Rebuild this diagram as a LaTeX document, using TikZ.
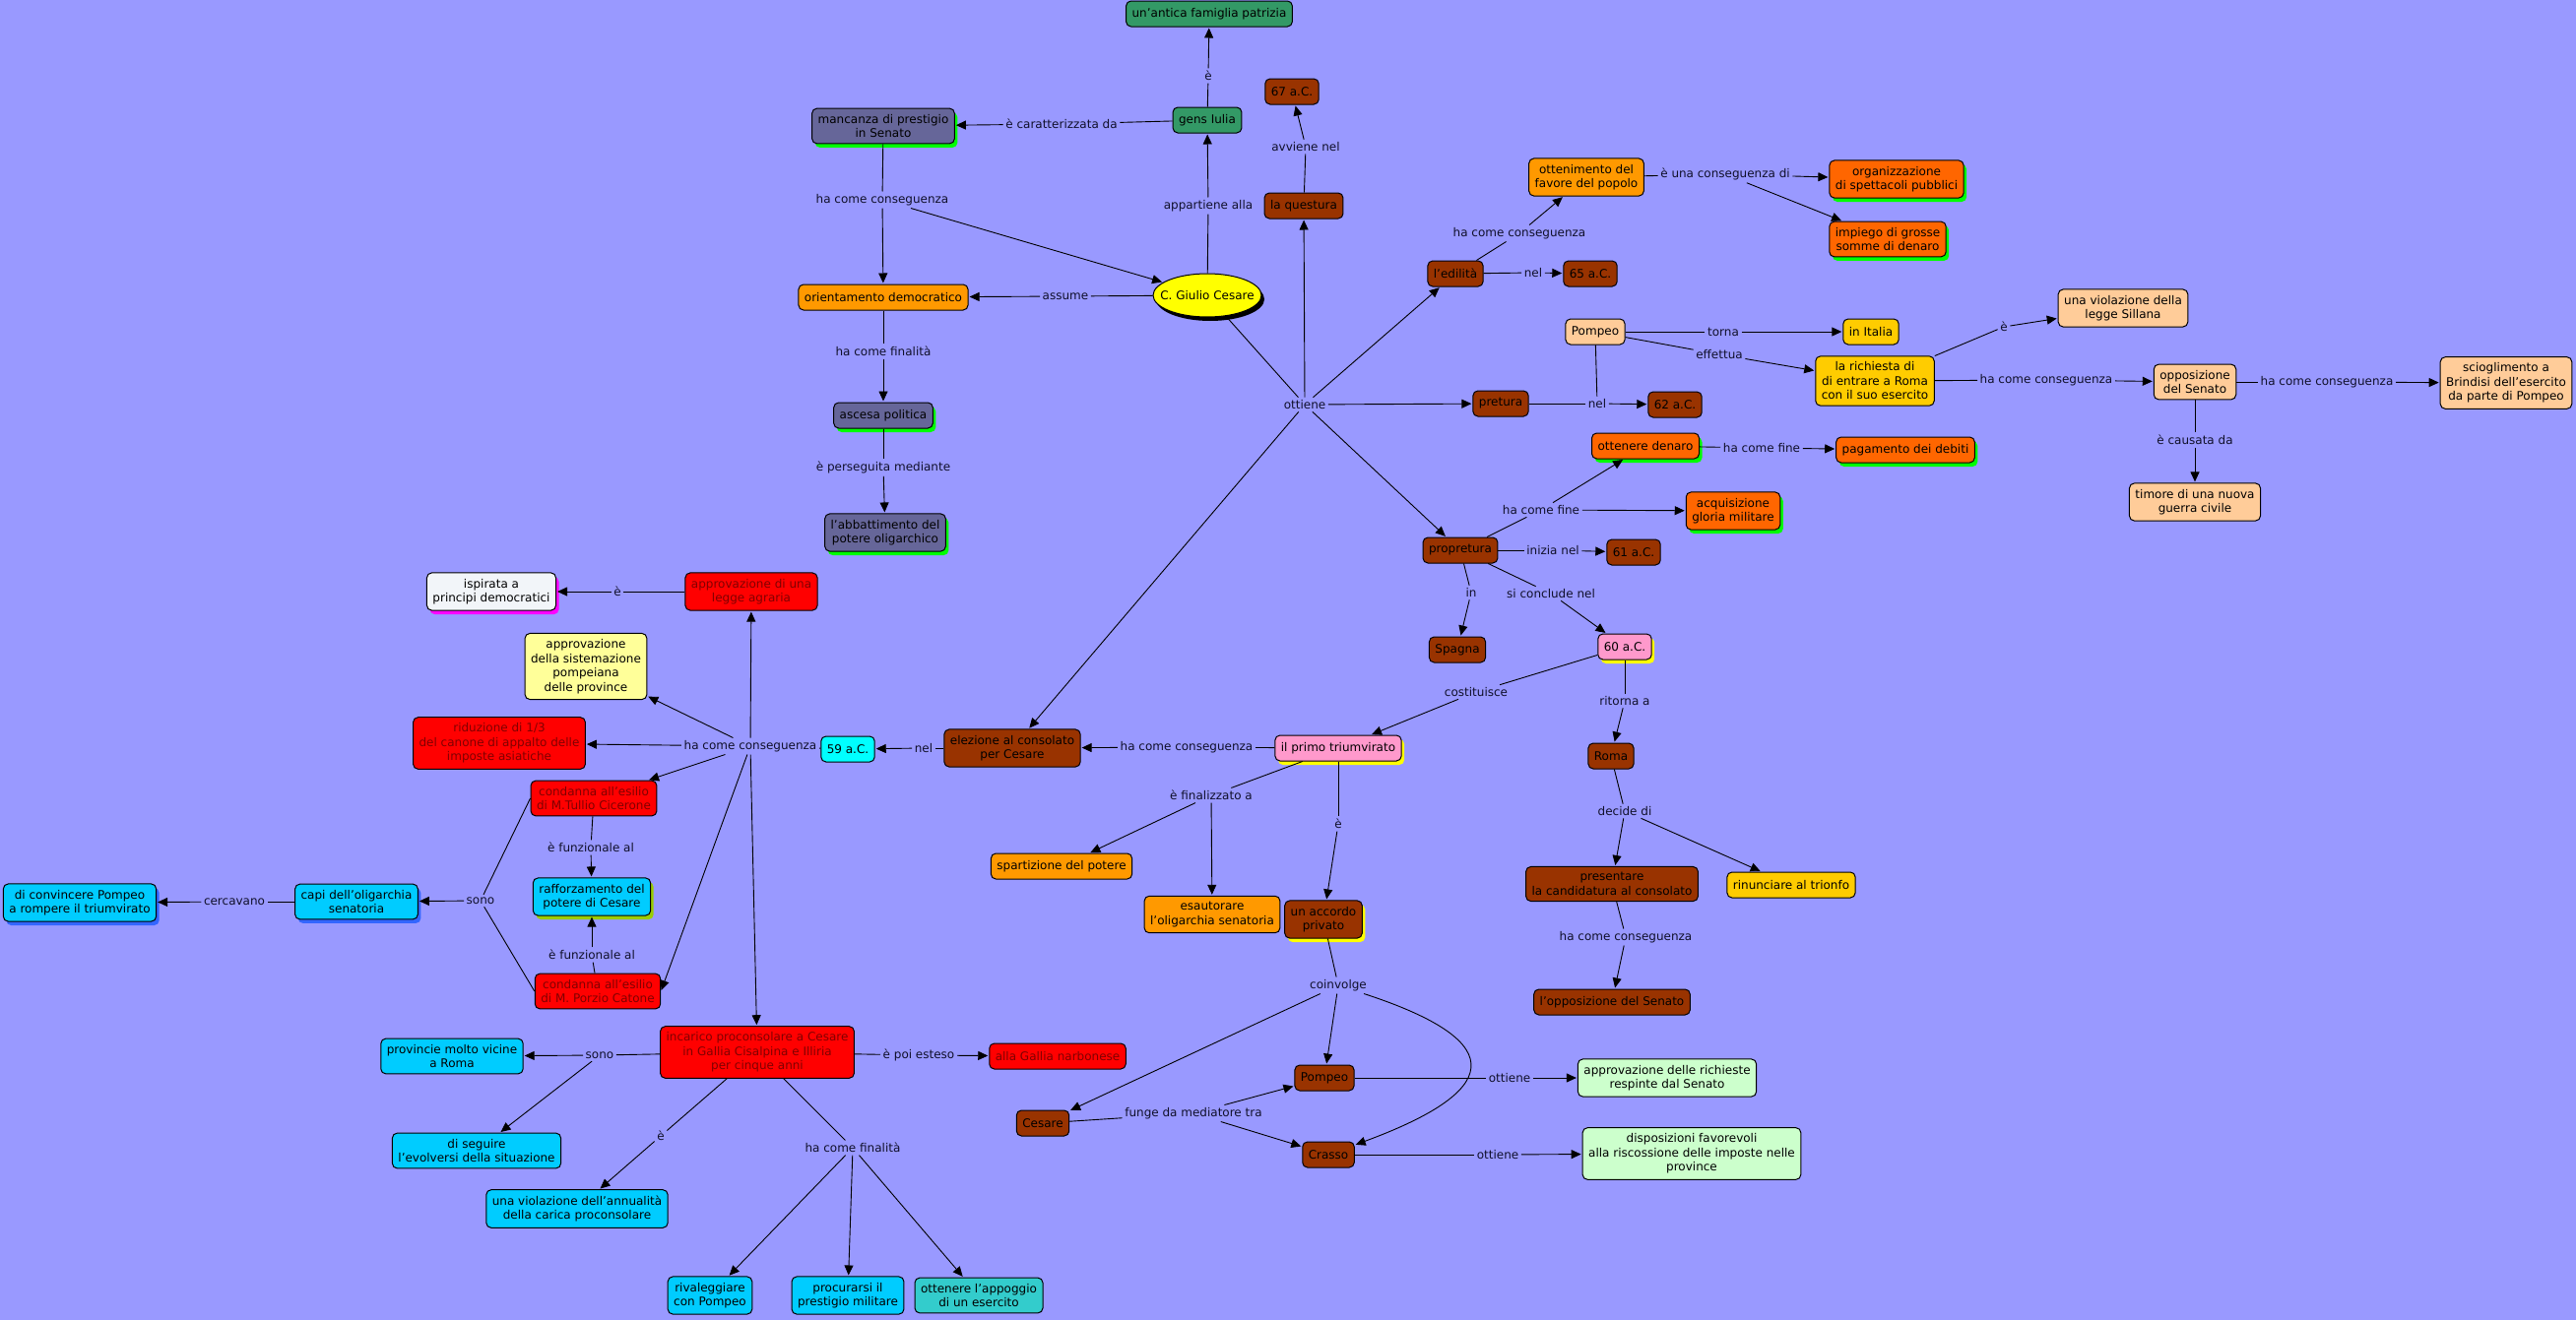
\documentclass[tikz,border=0pt]{standalone}
\usepackage{fontspec}
\setmainfont{DejaVu Sans}
\usetikzlibrary{arrows.meta, positioning, shapes.geometric, shadows}

\definecolor{mapbg}{HTML}{9999FF}
\definecolor{cmgreen}{HTML}{339966}
\definecolor{cmslate}{HTML}{666699}
\definecolor{cmorange}{HTML}{FF9900}
\definecolor{cmorred}{HTML}{FF6600}
\definecolor{cmbrown}{HTML}{993300}
\definecolor{cmpeach}{HTML}{FFCC99}
\definecolor{cmgold}{HTML}{FFCC00}
\definecolor{cmred}{HTML}{FF0000}
\definecolor{cmlyell}{HTML}{FFFF99}
\definecolor{cmcyan}{HTML}{00FFFF}
\definecolor{cmsky}{HTML}{00CCFF}
\definecolor{cmteal}{HTML}{33CCCC}
\definecolor{cmpink}{HTML}{FF99CC}
\definecolor{cmmint}{HTML}{CCFFCC}
\definecolor{cmwhite}{HTML}{F2F5F9}
\definecolor{cmyellow}{HTML}{FFFF00}
\definecolor{shgreen}{HTML}{00FF00}
\definecolor{shmagenta}{HTML}{FF00FF}
\definecolor{shlime}{HTML}{99CC00}
\definecolor{shblue}{HTML}{3366FF}
\definecolor{redtext}{HTML}{800000}
\definecolor{lbltext}{HTML}{10102A}

\newcommand{\mapfont}{\fontsize{12}{14.5}\selectfont}

\begin{document}
\begin{tikzpicture}[x=1pt, y=-1pt,
  box/.style={draw, rounded corners=5pt, line width=1pt, font=\mapfont, align=center,
              minimum height=26pt, inner xsep=6pt, inner ysep=6pt, text=black},
  greenbox/.style={box, fill=cmgreen},
  slatebox/.style={box, fill=cmslate},
  orangebox/.style={box, fill=cmorange},
  orredbox/.style={box, fill=cmorred},
  brownbox/.style={box, fill=cmbrown},
  peachbox/.style={box, fill=cmpeach},
  goldbox/.style={box, fill=cmgold},
  redbox/.style={box, fill=cmred, text=redtext},
  lyellbox/.style={box, fill=cmlyell},
  cyanbox/.style={box, fill=cmcyan},
  skybox/.style={box, fill=cmsky},
  tealbox/.style={box, fill=cmteal},
  pinkbox/.style={box, fill=cmpink},
  mintbox/.style={box, fill=cmmint},
  whitebox/.style={box, fill=cmwhite},
  gsh/.style={drop shadow={shadow xshift=3pt, shadow yshift=-4pt, fill=shgreen, opacity=1}},
  ysh/.style={drop shadow={shadow xshift=3pt, shadow yshift=-4pt, fill=cmyellow, opacity=1}},
  msh/.style={drop shadow={shadow xshift=3pt, shadow yshift=-4pt, fill=shmagenta, opacity=1}},
  lsh/.style={drop shadow={shadow xshift=3pt, shadow yshift=-4pt, fill=shlime, opacity=1}},
  bsh/.style={drop shadow={shadow xshift=3pt, shadow yshift=-4pt, fill=shblue, opacity=1}},
  ell/.style={ellipse, draw, line width=1pt, fill=cmyellow, font=\mapfont,
              minimum width=110pt, minimum height=44pt, inner xsep=-10pt, inner ysep=0pt,
              drop shadow={shadow xshift=3pt, shadow yshift=-4pt, fill=black, opacity=1}},
  lbl/.style={font=\mapfont, text=lbltext, inner sep=2.5pt},
  con/.style={line width=0.9pt},
  arr/.style={con, -{Triangle[length=10pt, width=9pt]}, shorten >=1pt}
]
  \useasboundingbox (0,0) rectangle (2616,1341);
  \fill[mapbg] (0,0) rectangle (2616,1341);

  % Cesare e la sua famiglia
  \node[ell]       (cesare)   at (1226, 300)  {C. Giulio Cesare};
  \node[greenbox]  (antica)   at (1228, 14)   {un'antica famiglia patrizia};
  \node[greenbox]  (gens)     at (1226, 122)  {gens Iulia};
  \node[slatebox, gsh] (mancanza) at (897, 128) {mancanza di prestigio\\in Senato};
  \node[orangebox] (orient)   at (897, 302)   {orientamento democratico};
  \node[slatebox, gsh] (ascesa) at (897, 422)   {ascesa politica};
  \node[slatebox, gsh] (abbatt) at (899, 541)   {l'abbattimento del\\potere oligarchico};
  \node[brownbox]  (y67)      at (1312, 93)   {67 a.C.};
  \node[brownbox]  (questura) at (1324, 209)  {la questura};

  % carriera
  \node[orangebox] (favore)   at (1611, 180)  {ottenimento del\\favore del popolo};
  \node[orredbox, gsh] (spett)  at (1926, 182)  {organizzazione\\di spettacoli pubblici};
  \node[orredbox, gsh] (denaro) at (1917, 243)  {impiego di grosse\\somme di denaro};
  \node[brownbox]  (edilita)  at (1478, 278)  {l'edilità};
  \node[brownbox]  (y65)      at (1615, 278)  {65 a.C.};
  \node[peachbox]  (pompeoA)  at (1620, 337)  {Pompeo};
  \node[goldbox]   (italia)   at (1900, 337)  {in Italia};
  \node[goldbox]   (richiesta) at (1904, 387) {la richiesta di\\di entrare a Roma\\con il suo esercito};
  \node[peachbox]  (sillana)  at (2156, 313)  {una violazione della\\legge Sillana};
  \node[peachbox]  (opposiz)  at (2229, 388)  {opposizione\\del Senato};
  \node[peachbox]  (sciogl)   at (2545, 389)  {scioglimento a\\Brindisi dell'esercito\\da parte di Pompeo};
  \node[peachbox]  (timore)   at (2229, 510)  {timore di una nuova\\guerra civile};
  \node[brownbox]  (pretura)  at (1524, 410)  {pretura};
  \node[brownbox]  (y62)      at (1701, 411)  {62 a.C.};
  \node[orredbox, gsh] (ottden) at (1671, 453)  {ottenere denaro};
  \node[orredbox, gsh] (debiti) at (1935, 457)  {pagamento dei debiti};
  \node[orredbox, gsh] (gloria) at (1760, 519)  {acquisizione\\gloria militare};
  \node[brownbox]  (propret)  at (1483, 559)  {propretura};
  \node[brownbox]  (y61)      at (1659, 561)  {61 a.C.};
  \node[brownbox]  (spagna)   at (1480, 660)  {Spagna};
  \node[pinkbox, ysh] (y60)   at (1650, 657)  {60 a.C.};

  % triumvirato
  \node[pinkbox, ysh] (trium) at (1359, 760)  {il primo triumvirato};
  \node[brownbox]  (roma)     at (1636, 768)  {Roma};
  \node[orangebox] (spart)    at (1078, 880)  {spartizione del potere};
  \node[orangebox] (esaut)    at (1231, 929)  {esautorare\\l'oligarchia senatoria};
  \node[brownbox, ysh] (accordo) at (1344, 934) {un accordo\\privato};
  \node[brownbox]  (candid)   at (1637, 898)  {presentare\\la candidatura al consolato};
  \node[goldbox]   (trionfo)  at (1819, 899)  {rinunciare al trionfo};
  \node[brownbox]  (oppSen)   at (1637, 1018) {l'opposizione del Senato};
  \node[brownbox]  (pompeoB)  at (1345, 1095) {Pompeo};
  \node[brownbox]  (cesareB)  at (1059, 1141) {Cesare};
  \node[brownbox]  (crasso)   at (1349, 1173) {Crasso};
  \node[mintbox]   (richieste) at (1693, 1095) {approvazione delle richieste\\respinte dal Senato};
  \node[mintbox]   (imposte)  at (1718, 1172) {disposizioni favorevoli\\alla riscossione delle imposte nelle\\province};

  % consolato
  \node[whitebox, msh] (ispirata) at (499, 601) {ispirata a\\principi democratici};
  \node[redbox]    (agraria)  at (763, 601)   {approvazione di una\\legge agraria};
  \node[lyellbox]  (sistem)   at (595, 677)   {approvazione\\della sistemazione\\pompeiana\\delle province};
  \node[redbox]    (riduz)    at (507, 755)   {riduzione di 1/3\\del canone di appalto delle\\imposte asiatiche};
  \node[cyanbox]   (y59)      at (861, 761)   {59 a.C.};
  \node[brownbox]  (elezione) at (1028, 760)  {elezione al consolato\\per Cesare};
  \node[redbox]    (cicerone) at (603, 811)   {condanna all'esilio\\di M.Tullio Cicerone};
  \node[skybox, lsh] (rafforz) at (601, 911)  {rafforzamento del\\potere di Cesare};
  \node[redbox]    (catone)   at (607, 1007)  {condanna all'esilio\\di M. Porzio Catone};
  \node[skybox, bsh] (capi)   at (362, 916)   {capi dell'oligarchia\\senatoria};
  \node[skybox, bsh] (convinc) at (81, 917)   {di convincere Pompeo\\a rompere il triumvirato};
  \node[redbox]    (incarico) at (769, 1069)  {incarico proconsolare a Cesare\\in Gallia Cisalpina e Illiria\\per cinque anni};
  \node[redbox]    (narbon)   at (1074, 1073) {alla Gallia narbonese};
  \node[skybox]    (vicine)   at (459, 1073)  {provincie molto vicine\\a Roma};
  \node[skybox]    (seguire)  at (484, 1169)  {di seguire\\l'evolversi della situazione};
  \node[skybox]    (annual)   at (586, 1228)  {una violazione dell'annualità\\della carica proconsolare};
  \node[skybox]    (rival)    at (721, 1316)  {rivaleggiare\\con Pompeo};
  \node[skybox]    (prestig)  at (861, 1316)  {procurarsi il\\prestigio militare};
  \node[tealbox]   (appogg)   at (994, 1316)  {ottenere l'appoggio\\di un esercito};

  % frasi di collegamento
  \node[lbl] (lE1)     at (1227, 77)   {è};
  \node[lbl] (lCar)    at (1078, 126)  {è caratterizzata da};
  \node[lbl] (lAvv)    at (1326, 149)  {avviene nel};
  \node[lbl] (lCons1)  at (896, 203)   {ha come conseguenza};
  \node[lbl] (lApp)    at (1227, 209)  {appartiene alla};
  \node[lbl] (lAss)    at (1082, 301)  {assume};
  \node[lbl] (lFin1)   at (897, 357)   {ha come finalità};
  \node[lbl] (lPers)   at (897, 475)   {è perseguita mediante};
  \node[lbl] (lOtt)    at (1325, 411)  {ottiene};
  \node[lbl] (lCons2)  at (1543, 237)  {ha come conseguenza};
  \node[lbl] (lNel65)  at (1557, 277)  {nel};
  \node[lbl] (lConsDi) at (1752, 177)  {è una conseguenza di};
  \node[lbl] (lTorna)  at (1750, 337)  {torna};
  \node[lbl] (lEff)    at (1746, 360)  {effettua};
  \node[lbl] (lNel62)  at (1622, 410)  {nel};
  \node[lbl] (lE2)     at (2035, 332)  {è};
  \node[lbl] (lCons3)  at (2078, 386)  {ha come conseguenza};
  \node[lbl] (lCons4)  at (2363, 388)  {ha come conseguenza};
  \node[lbl] (lCaus)   at (2229, 447)  {è causata da};
  \node[lbl] (lFine1)  at (1789, 455)  {ha come fine};
  \node[lbl] (lFine2)  at (1565, 518)  {ha come fine};
  \node[lbl] (lIniz)   at (1577, 559)  {inizia nel};
  \node[lbl] (lIn)     at (1494, 602)  {in};
  \node[lbl] (lConcl)  at (1575, 603)  {si conclude nel};
  \node[lbl] (lCost)   at (1499, 703)  {costituisce};
  \node[lbl] (lRit)    at (1650, 712)  {ritorna a};
  \node[lbl] (lDec)    at (1650, 824)  {decide di};
  \node[lbl] (lCons5)  at (1651, 952)  {ha come conseguenza};
  \node[lbl] (lCons6)  at (1205, 759)  {ha come conseguenza};
  \node[lbl] (lFinal)  at (1230, 808)  {è finalizzato a};
  \node[lbl] (lE3)     at (1359, 837)  {è};
  \node[lbl] (lCoinv)  at (1359, 1001) {coinvolge};
  \node[lbl] (lMed)    at (1212, 1131) {funge da mediatore tra};
  \node[lbl] (lOtt2)   at (1533, 1095) {ottiene};
  \node[lbl] (lOtt3)   at (1521, 1173) {ottiene};
  \node[lbl] (lNel59)  at (938, 760)   {nel};
  \node[lbl] (lCons7)  at (762, 758)   {ha come conseguenza};
  \node[lbl] (lE4)     at (627, 601)   {è};
  \node[lbl] (lFunz1)  at (600, 861)   {è funzionale al};
  \node[lbl] (lFunz2)  at (601, 970)   {è funzionale al};
  \node[lbl] (lSono1)  at (488, 915)   {sono};
  \node[lbl] (lCerc)   at (238, 916)   {cercavano};
  \node[lbl] (lSono2)  at (609, 1072)  {sono};
  \node[lbl] (lEst)    at (933, 1072)  {è poi esteso};
  \node[lbl] (lE5)     at (671, 1154)  {è};
  \node[lbl] (lFin2)   at (866, 1166)  {ha come finalità};

  % collegamenti: Cesare
  \draw[con] (gens) -- (lE1);         \draw[arr] (lE1) -- (antica);
  \draw[con] (gens) -- (lCar);        \draw[arr] (lCar) -- (mancanza);
  \draw[con] (questura) -- (lAvv);    \draw[arr] (lAvv) -- (y67);
  \draw[con] (mancanza) -- (lCons1);  \draw[arr] (lCons1) -- (orient);
  \draw[arr] (lCons1) -- (cesare);
  \draw[con] (cesare) -- (lApp);      \draw[arr] (lApp) -- (gens);
  \draw[con] (cesare) -- (lAss);      \draw[arr] (lAss) -- (orient);
  \draw[con] (orient) -- (lFin1);     \draw[arr] (lFin1) -- (ascesa);
  \draw[con] (ascesa) -- (lPers);     \draw[arr] (lPers) -- (abbatt);

  % ottiene
  \draw[con] (cesare) -- (lOtt);
  \draw[arr] (lOtt) -- (questura);
  \draw[arr] (lOtt) -- (edilita);
  \draw[arr] (lOtt) -- (pretura);
  \draw[arr] (lOtt) -- (propret);
  \draw[arr] (lOtt) -- (elezione);

  % edilita, pretura, propretura
  \draw[con] (edilita) -- (lCons2);   \draw[arr] (lCons2) -- (favore);
  \draw[con] (edilita) -- (lNel65);   \draw[arr] (lNel65) -- (y65);
  \draw[con] (favore) -- (lConsDi);   \draw[arr] (lConsDi) -- (spett);
  \draw[arr] (lConsDi) -- (denaro);
  \draw[con] (pompeoA) -- (lTorna);   \draw[arr] (lTorna) -- (italia);
  \draw[con] (pompeoA) -- (lEff);     \draw[arr] (lEff) -- (richiesta);
  \draw[con] (pompeoA) -- (lNel62);   \draw[con] (pretura) -- (lNel62);
  \draw[arr] (lNel62) -- (y62);
  \draw[con] (richiesta) -- (lE2);    \draw[arr] (lE2) -- (sillana);
  \draw[con] (richiesta) -- (lCons3); \draw[arr] (lCons3) -- (opposiz);
  \draw[con] (opposiz) -- (lCons4);   \draw[arr] (lCons4) -- (sciogl);
  \draw[con] (opposiz) -- (lCaus);    \draw[arr] (lCaus) -- (timore);
  \draw[con] (ottden) -- (lFine1);    \draw[arr] (lFine1) -- (debiti);
  \draw[con] (propret) -- (lFine2);   \draw[arr] (lFine2) -- (ottden);
  \draw[arr] (lFine2) -- (gloria);
  \draw[con] (propret) -- (lIniz);    \draw[arr] (lIniz) -- (y61);
  \draw[con] (propret) -- (lIn);      \draw[arr] (lIn) -- (spagna);
  \draw[con] (propret) -- (lConcl);   \draw[arr] (lConcl) -- (y60);
  \draw[con] (y60) -- (lCost);        \draw[arr] (lCost) -- (trium);
  \draw[con] (y60) -- (lRit);         \draw[arr] (lRit) -- (roma);
  \draw[con] (roma) -- (lDec);        \draw[arr] (lDec) -- (candid);
  \draw[arr] (lDec) -- (trionfo);
  \draw[con] (candid) -- (lCons5);    \draw[arr] (lCons5) -- (oppSen);

  % triumvirato
  \draw[con] (trium) -- (lCons6);     \draw[arr] (lCons6) -- (elezione);
  \draw[con] (trium) -- (lFinal);     \draw[arr] (lFinal) -- (spart);
  \draw[arr] (lFinal) -- (esaut);
  \draw[con] (trium) -- (lE3);        \draw[arr] (lE3) -- (accordo);
  \draw[con] (accordo) -- (lCoinv);   \draw[arr] (lCoinv) -- (cesareB);
  \draw[arr] (lCoinv) -- (pompeoB);
  \draw[arr] (lCoinv) .. controls (1540,1060) and (1520,1110) .. (crasso);
  \draw[con] (cesareB) -- (lMed);     \draw[arr] (lMed) -- (pompeoB);
  \draw[arr] (lMed) -- (crasso);
  \draw[con] (pompeoB) -- (lOtt2);    \draw[arr] (lOtt2) -- (richieste);
  \draw[con] (crasso) -- (lOtt3);     \draw[arr] (lOtt3) -- (imposte);

  % consolato del 59
  \draw[con] (elezione) -- (lNel59);  \draw[arr] (lNel59) -- (y59);
  \draw[con] (y59) -- (lCons7);
  \draw[arr] (lCons7) -- (agraria);
  \draw[arr] (lCons7) -- (sistem);
  \draw[arr] (lCons7) -- (riduz);
  \draw[arr] (lCons7) -- (cicerone);
  \draw[arr] (lCons7) -- (catone.east);
  \draw[arr] (lCons7) -- (incarico);
  \draw[con] (agraria) -- (lE4);      \draw[arr] (lE4) -- (ispirata);
  \draw[con] (cicerone) -- (lFunz1);  \draw[arr] (lFunz1) -- (rafforz);
  \draw[con] (catone) -- (lFunz2);    \draw[arr] (lFunz2) -- (rafforz);
  \draw[con] (cicerone.west) -- (lSono1);  \draw[con] (catone.west) -- (lSono1);
  \draw[arr] (lSono1) -- (capi);
  \draw[con] (capi) -- (lCerc);       \draw[arr] (lCerc) -- (convinc);
  \draw[con] (incarico) -- (lSono2);  \draw[arr] (lSono2) -- (vicine);
  \draw[arr] (lSono2) -- (seguire);
  \draw[con] (incarico) -- (lEst);    \draw[arr] (lEst) -- (narbon);
  \draw[con] (incarico) -- (lE5);     \draw[arr] (lE5) -- (annual);
  \draw[con] (incarico) -- (lFin2);   \draw[arr] (lFin2) -- (rival);
  \draw[arr] (lFin2) -- (prestig);
  \draw[arr] (lFin2) -- (appogg);
\end{tikzpicture}
\end{document}
